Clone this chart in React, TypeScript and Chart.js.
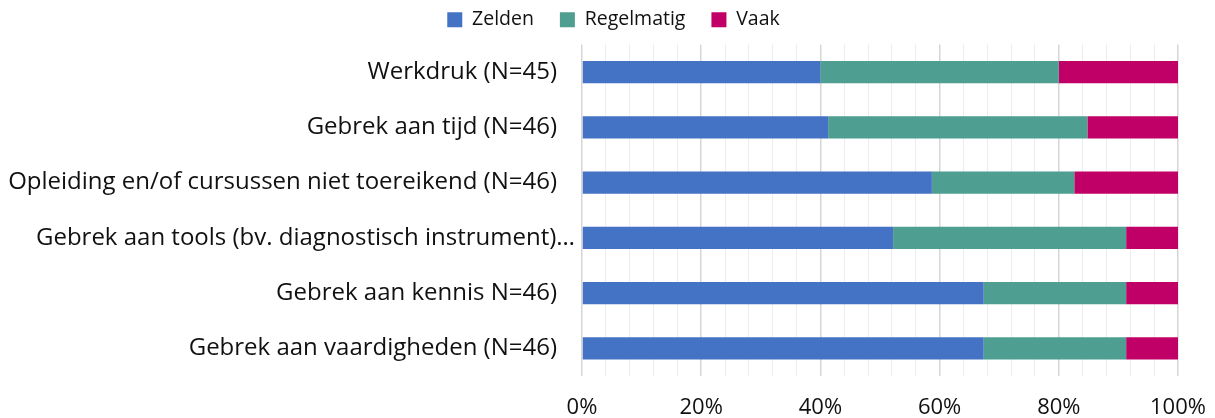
import React, { useEffect, useRef } from "react";
import { Chart, registerables } from "chart.js";

Chart.register(...registerables);

const categories = [
  "Werkdruk (N=45)",
  "Gebrek aan tijd (N=46)",
  "Opleiding en/of cursussen niet toereikend (N=46)",
  "Gebrek aan tools (bv. diagnostisch instrument)…",
  "Gebrek aan kennis N=46)",
  "Gebrek aan vaardigheden (N=46)",
];

const zelden = [40.0, 41.3, 58.7, 52.2, 67.4, 67.4];
const regelmatig = [40.0, 43.5, 23.9, 39.1, 23.9, 23.9];
const vaak = [20.0, 15.2, 17.4, 8.7, 8.7, 8.7];

const seriesNames = ["Zelden", "Regelmatig", "Vaak"];
const seriesColors = ["#4472C4", "#4E9E91", "#C00066"];

const FONT = "'Open Sans', 'DejaVu Sans', sans-serif";
const LEGEND_SHIFT = 24.5;
const ELLIPSIS_SHIFT = 18;

const tweakPlugin = {
  id: "tweakPlugin",
  afterLayout(chart: any) {
    if (chart.legend) {
      chart.legend.left += LEGEND_SHIFT;
      chart.legend.right += LEGEND_SHIFT;
    }
  },
  beforeDraw(chart: any) {
    const y = chart.scales && chart.scales.y;
    if (!y || typeof y.getLabelItems !== "function") return;
    const items = y.getLabelItems(chart.chartArea);
    if (!items) return;
    items.forEach((item: any) => {
      if (
        typeof item.label === "string" &&
        item.label.endsWith("…") &&
        !item.__shifted &&
        item.options &&
        item.options.translation
      ) {
        item.options.translation[0] += ELLIPSIS_SHIFT;
        item.__shifted = true;
      }
    });
  },
};

export default function App() {
  const ref = useRef<HTMLCanvasElement | null>(null);

  useEffect(() => {
    document.body.style.margin = "0";
    if (!ref.current) return;
    const values = [zelden, regelmatig, vaak];
    const chart = new Chart(ref.current, {
      type: "bar",
      data: {
        labels: categories,
        datasets: seriesNames.map((name, i) => ({
          label: name,
          data: values[i],
          backgroundColor: seriesColors[i],
          borderWidth: 0,
          barPercentage: 0.4,
          categoryPercentage: 1,
        })),
      },
      plugins: [tweakPlugin],
      options: {
        indexAxis: "y",
        responsive: false,
        animation: false,
        layout: { padding: { left: 0, right: 37, top: -16, bottom: -22 } },
        plugins: {
          tooltip: { enabled: false },
          legend: {
            position: "top",
            align: "center",
            labels: {
              font: { family: FONT, size: 19.5 },
              color: "#111",
              boxWidth: 15,
              boxHeight: 15,
              padding: 26,
            },
          },
        },
        scales: {
          x: {
            stacked: true,
            min: 0,
            max: 100,
            border: { display: false },
            grid: {
              drawTicks: false,
              color: (ctx: any) =>
                ctx.tick && ctx.tick.value % 20 === 0 ? "#d6d6d6" : "#ededed",
              lineWidth: (ctx: any) =>
                ctx.tick && ctx.tick.value % 20 === 0 ? 1.5 : 1,
            },
            ticks: {
              stepSize: 4,
              autoSkip: false,
              maxRotation: 0,
              padding: 18.8,
              color: "#111",
              font: { family: FONT, size: 22 },
              callback: (v: any) => (Number(v) % 20 === 0 ? v + "%" : ""),
            },
            afterFit: (axis: any) => {
              axis.paddingLeft = 0;
              axis.paddingRight = 0;
            },
          },
          xTop: {
            type: "linear",
            position: "top",
            display: true,
            border: { display: false },
            grid: { display: false, drawTicks: false },
            ticks: { display: false },
            afterFit: (axis: any) => {
              axis.height = 5;
              axis.paddingLeft = 0;
              axis.paddingRight = 0;
            },
          },
          y: {
            stacked: true,
            border: { display: false },
            grid: { display: false, drawTicks: false },
            ticks: {
              padding: 25,
              color: "#111",
              font: { family: FONT, size: 24 },
            },
            afterFit: (axis: any) => {
              axis.width = 582;
              axis.paddingTop = 0;
              axis.paddingBottom = 0;
            },
          },
        },
      },
    });
    return () => chart.destroy();
  }, []);

  return (
    <div style={{ width: 1215, height: 418, position: "relative" }}>
      <canvas ref={ref} width={1215} height={418} style={{ display: "block" }} />
    </div>
  );
}
